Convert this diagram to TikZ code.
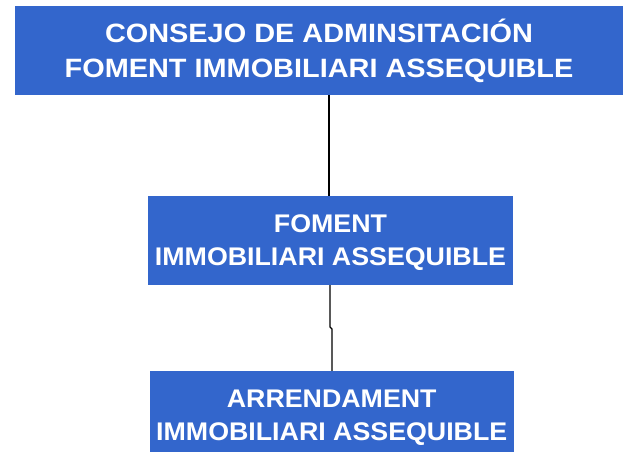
\documentclass[tikz,border=0pt]{standalone}
\usepackage{fontspec}
\setmainfont{Liberation Sans}
\newfontfamily\widetop[FakeStretch=1.09]{Liberation Sans}
\newfontfamily\widesub[FakeStretch=1.05]{Liberation Sans}
\definecolor{boxblue}{RGB}{51,102,204}
\begin{document}
\begin{tikzpicture}[x=1pt,y=1pt,
  orgbox/.style={fill=boxblue, draw=none, text=white, inner sep=0pt, align=center,
    text depth=0pt, minimum height=89pt},
  topfont/.style={font=\widetop\fontsize{26.5}{35}\selectfont\bfseries},
  subfont/.style={font=\widesub\fontsize{25.5}{33.5}\selectfont\bfseries},
  link/.style={draw=black, line width=1.2pt}]
\useasboundingbox (0,0) rectangle (625,452);
\fill[white] (0,0) rectangle (625,452);
\node[orgbox, topfont, text height=55pt, minimum width=608pt] (top) at (319,401.5) {CONSEJO DE ADMINSITACIÓN\\FOMENT IMMOBILIARI ASSEQUIBLE};
\node[orgbox, subfont, text height=51pt, minimum width=365pt] (mid) at (330.5,211.5) {FOMENT\\IMMOBILIARI ASSEQUIBLE};
\node[orgbox, subfont, text height=53pt, minimum width=363.5pt, minimum height=87pt] (bot) at (331.75,37.5) {ARRENDAMENT\\IMMOBILIARI ASSEQUIBLE};
\coordinate (j1) at (330,125);
\coordinate (j2) at (332,123);
\draw[link] (top.south -| 329,0) -- (mid.north -| 329,0);
\draw[link] (mid.south -| j1) -- (j1) -- (j2) -- (bot.north -| j2);
\end{tikzpicture}
\end{document}
